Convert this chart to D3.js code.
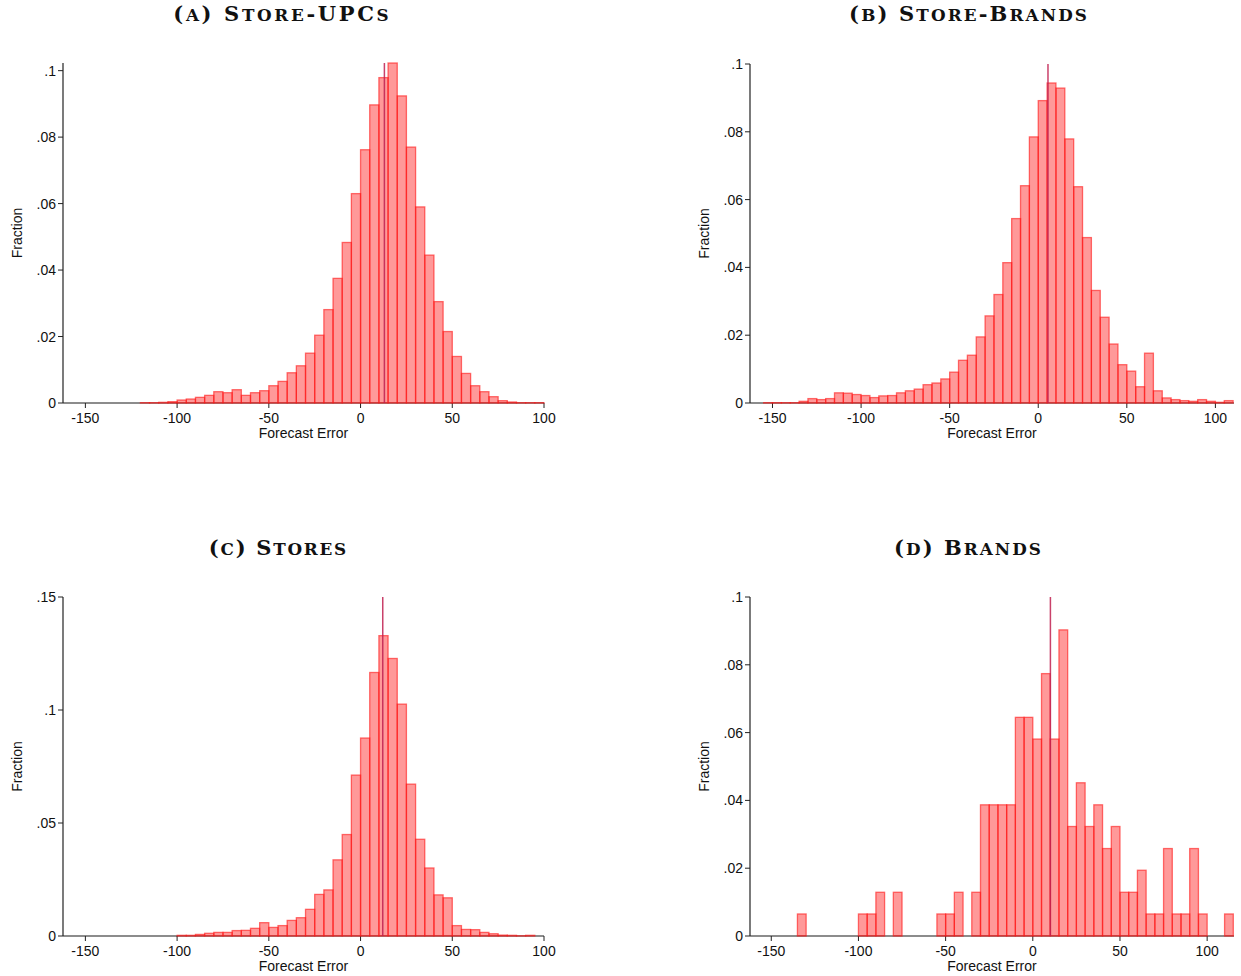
<!DOCTYPE html>
<html>
<head>
  <title>forecast errors</title>
  <script src="https://d3js.org/d3.v7.min.js"></script>
  <style>
    body { margin: 0; background: #fff; }
    .tick-label { font-family: "Liberation Sans", Arial, sans-serif; font-size: 14px; fill: #111; }
    .axis-title { font-family: "Liberation Sans", Arial, sans-serif; font-size: 14px; fill: #111; }
    .panel-title { font-family: "DejaVu Serif", "Liberation Serif", serif; font-weight: bold; font-size: 21px; fill: #111; }
  </style>
</head>
<body>
  <svg width="1241" height="976" id="mainsvg"></svg>
  <script>
    // bin width used by all four histograms
    const binWidth = 5;

    // (a) Store-UPCs : fractions per 5-unit bin, first bin starts at -120
    const startA = -120;
    const fracA = [0.0001, 0.0001, 0.0002, 0.0004, 0.0009, 0.0012, 0.0017, 0.0023, 0.0034, 0.0031,
      0.0040, 0.0023, 0.0031, 0.0037, 0.0052, 0.0065, 0.0091, 0.0112, 0.0150, 0.0204,
      0.0281, 0.0375, 0.0483, 0.0630, 0.0762, 0.0897, 0.0979, 0.1023, 0.0924, 0.0770,
      0.0590, 0.0445, 0.0305, 0.0215, 0.0140, 0.0089, 0.0052, 0.0034, 0.0019, 0.0007,
      0.0003, 0.0001, 0.0001, 0.0001];
    const meanA = 13.0;

    // (b) Store-Brands, first bin starts at -155
    const startB = -155;
    const fracB = [0.0001, 0.0001, 0.0001, 0.0001, 0.0005, 0.0013, 0.0010, 0.0013, 0.0030, 0.0029,
      0.0025, 0.0022, 0.0016, 0.0021, 0.0022, 0.0030, 0.0036, 0.0041, 0.0054, 0.0059,
      0.0071, 0.0091, 0.0126, 0.0141, 0.0195, 0.0257, 0.0320, 0.0414, 0.0544, 0.0641,
      0.0785, 0.0892, 0.0944, 0.0929, 0.0779, 0.0638, 0.0488, 0.0332, 0.0253, 0.0174,
      0.0113, 0.0094, 0.0048, 0.0147, 0.0036, 0.0015, 0.0010, 0.0007, 0.0005, 0.0010,
      0.0005, 0.0002, 0.0007];
    const meanB = 5.5;

    // (c) Stores, first bin starts at -100
    const startC = -100;
    const fracC = [0.0003, 0.0003, 0.0007, 0.0012, 0.0016, 0.0016, 0.0024, 0.0025, 0.0034, 0.0059,
      0.0038, 0.0046, 0.0069, 0.0081, 0.0118, 0.0184, 0.0204, 0.0337, 0.0449, 0.0712,
      0.0876, 0.1166, 0.1329, 0.1228, 0.1026, 0.0672, 0.0428, 0.0301, 0.0182, 0.0169,
      0.0046, 0.0029, 0.0028, 0.0016, 0.0010, 0.0004, 0.0003, 0.0001, 0.0003];
    const meanC = 12.1;

    // (d) Brands, first bin starts at -135 (empty bins are 0)
    const startD = -135;
    const fracD = [0.0065, 0, 0, 0, 0, 0, 0, 0.0065, 0.0065, 0.0129,
      0, 0.0129, 0, 0, 0, 0, 0.0065, 0.0065, 0.0129, 0,
      0.0129, 0.0387, 0.0387, 0.0387, 0.0387, 0.0645, 0.0645, 0.0581, 0.0774, 0.0581,
      0.0903, 0.0323, 0.0452, 0.0323, 0.0387, 0.0258, 0.0323, 0.0129, 0.0129, 0.0194,
      0.0065, 0.0065, 0.0258, 0.0065, 0.0065, 0.0258, 0.0065, 0, 0, 0.0065];
    const meanD = 10.1;

    const xTicks = [-150, -100, -50, 0, 50, 100];
    const yTicksA = [0, 0.02, 0.04, 0.06, 0.08, 0.1];
    const yTicksB = [0, 0.02, 0.04, 0.06, 0.08, 0.1];
    const yTicksC = [0, 0.05, 0.1, 0.15];
    const yTicksD = [0, 0.02, 0.04, 0.06, 0.08, 0.1];

    const titles = ["(a) Store-UPCs", "(b) Store-Brands", "(c) Stores", "(d) Brands"];

    // layout of each panel (pixels) + axis ranges; tw = title width
    const panels = [
      { title: titles[0], start: startA, frac: fracA, mean: meanA, yTicks: yTicksA,
        left: 63, right: 544, bottom: 403, top: 63, xdom: [-162.2, 100], ymax: 0.1023, tx: 281, ty: 21, tw: 218 },
      { title: titles[1], start: startB, frac: fracB, mean: meanB, yTicks: yTicksB,
        left: 750, right: 1234, bottom: 403, top: 64, xdom: [-162.7, 110.5], ymax: 0.1, tx: 968, ty: 21, tw: 240 },
      { title: titles[2], start: startC, frac: fracC, mean: meanC, yTicks: yTicksC,
        left: 63, right: 544, bottom: 936, top: 597, xdom: [-162.2, 100], ymax: 0.15, tx: 277.5, ty: 555, tw: 139 },
      { title: titles[3], start: startD, frac: fracD, mean: meanD, yTicks: yTicksD,
        left: 750, right: 1234, bottom: 936, top: 597, xdom: [-162.2, 115.4], ymax: 0.1, tx: 967.5, ty: 555, tw: 149 }
    ];

    const svg = d3.select('#mainsvg');

    // stata style labels: .08 instead of 0.08
    const fmt = v => v === 0 ? "0" : String(+v.toFixed(3)).replace(/^0\./, ".");

    // small caps by hand: lower case letters become smaller capitals
    function smallCaps(textSel, str) {
      let runs = [];
      for (const ch of str) {
        const small = ch !== ch.toUpperCase();
        if (runs.length && runs[runs.length - 1].small === small) runs[runs.length - 1].s += ch;
        else runs.push({ small: small, s: ch });
      }
      runs.forEach(r => {
        textSel.append('tspan')
          .attr('font-size', r.small ? '16.8px' : null)
          .text(r.small ? r.s.toUpperCase() : r.s);
      });
    }

    panels.forEach(p => {
      const g = svg.append('g');
      const x = d3.scaleLinear().domain(p.xdom).range([p.left, p.right]);
      const y = d3.scaleLinear().domain([0, p.ymax]).range([p.bottom, p.top]);

      const bins = p.frac.map((v, i) => ({ x0: p.start + i * binWidth, x1: p.start + (i + 1) * binWidth, v: v }))
        .filter(d => d.v > 0);

      // title, spread to the width of the original
      const title = g.append('text').attr('class', 'panel-title')
        .attr('x', p.tx).attr('y', p.ty)
        .attr('text-anchor', 'middle');
      smallCaps(title, p.title);
      const natural = title.node().getComputedTextLength();
      const n = p.title.length;
      const ls = Math.max(0, (p.tw - natural) / n);
      title.attr('letter-spacing', ls + 'px')
        .attr('x', p.tx + ls / 2);

      // x axis line + ticks
      g.append('line')
        .attr('x1', p.left).attr('x2', p.right)
        .attr('y1', p.bottom).attr('y2', p.bottom)
        .attr('stroke', '#666').attr('stroke-width', 1.5);
      xTicks.forEach(t => {
        g.append('line')
          .attr('x1', x(t)).attr('x2', x(t))
          .attr('y1', p.bottom).attr('y2', p.bottom + 5)
          .attr('stroke', '#222').attr('stroke-width', 1);
        g.append('text').attr('class', 'tick-label')
          .attr('x', x(t)).attr('y', p.bottom + 20)
          .attr('text-anchor', 'middle')
          .text(t);
      });
      g.append('text').attr('class', 'axis-title')
        .attr('x', (p.left + p.right) / 2).attr('y', p.bottom + 35)
        .attr('text-anchor', 'middle')
        .text('Forecast Error');

      // y axis line + ticks
      g.append('line')
        .attr('x1', p.left).attr('x2', p.left)
        .attr('y1', p.bottom).attr('y2', p.top)
        .attr('stroke', '#222').attr('stroke-width', 1.2);
      p.yTicks.forEach(t => {
        g.append('line')
          .attr('x1', p.left - 5).attr('x2', p.left)
          .attr('y1', y(t)).attr('y2', y(t))
          .attr('stroke', '#222').attr('stroke-width', 1);
        g.append('text').attr('class', 'tick-label')
          .attr('x', p.left - 7).attr('y', y(t) + 5)
          .attr('text-anchor', 'end')
          .text(fmt(t));
      });
      g.append('text').attr('class', 'axis-title')
        .attr('transform', `translate(${p.left - 41},${(p.top + p.bottom) / 2}) rotate(-90)`)
        .attr('text-anchor', 'middle')
        .text('Fraction');

      // bars
      g.selectAll('rect.bar').data(bins)
        .enter().append('rect')
        .attr('class', 'bar')
        .attr('x', d => x(d.x0))
        .attr('width', d => x(d.x1) - x(d.x0))
        .attr('y', d => y(d.v))
        .attr('height', d => p.bottom - y(d.v))
        .attr('fill', 'rgba(255,0,0,0.4)')
        .attr('stroke', 'rgba(255,20,20,0.6)')
        .attr('stroke-width', 1.3);

      // mean line
      g.append('line')
        .attr('x1', x(p.mean)).attr('x2', x(p.mean))
        .attr('y1', p.bottom).attr('y2', p.top)
        .attr('stroke', '#c02050').attr('stroke-opacity', 0.85)
        .attr('stroke-width', 1.5);
    });
  </script>
</body>
</html>
